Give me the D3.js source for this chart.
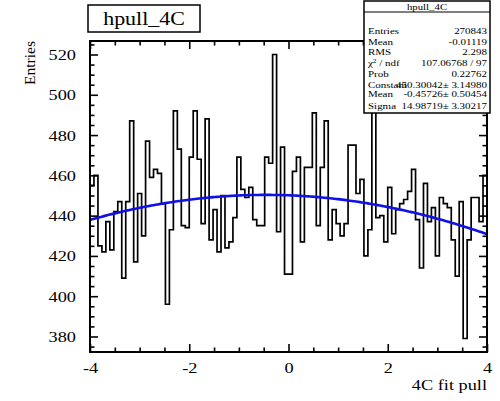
<!DOCTYPE html>
<html><head><meta charset="utf-8">
<script src="https://cdn.jsdelivr.net/npm/d3@7"></script>
<style>body{margin:0;background:#fff} text{font-family:"Liberation Serif","DejaVu Serif",serif}</style>
</head><body>
<svg id="c" width="500" height="401"></svg>
<script>
// ---- data ----
const histName = "hpull_4C";
const xTitle = "4C fit pull";
const yTitle = "Entries";
const xRange = [-4, 4];
const yRange = [372.3, 526.7];
const counts = [455,460,425,422,437,423,442,447,409,447,
                487,417,451,430,477,459,463,461,446,396,
                433,492,473,435,434,469,492,468,436,488,
                428,443,422,450,424,427,439,469,453,449,
                454,438,435,435,469,466,520,432,474,411,
                411,462,469,427,464,464,491,435,464,487,
                428,443,436,430,436,475,475,451,458,420,
                433,505,439,440,427,454,431,443,446,448,
                452,463,438,414,456,437,444,420,449,446,
                444,428,410,447,379,428,449,449,437,460];
const xMajorTicks = [-4, -2, 0, 2, 4];
const xMinorTicks = [-3.5,-3,-2.5,-1.5,-1,-0.5,0.5,1,1.5,2.5,3,3.5];
const yMajorTicks = [380, 400, 420, 440, 460, 480, 500, 520];
const yMinorTicks = [375,385,390,395,405,410,415,425,430,435,445,450,455,465,470,475,485,490,495,505,510,515,525];
const fitConstant = 450.30042, fitMean = -0.45726, fitSigma = 14.98719;
const statsLabels = ["Entries","Mean","RMS","CHI","Prob","Constant","Mean","Sigma"];
const statsValues = ["270843","-0.01119","2.298","107.06768 / 97","0.22762","450.30042\u00b1 3.14980","-0.45726\u00b1 0.50454","14.98719\u00b1 3.30217"];

// ---- layout ----
const L = 90, R = 487, T = 41, B = 352;
const SX = 1.22;
const svg = d3.select("#c");
const x = d3.scaleLinear().domain(xRange).range([L, R]);
const y = d3.scaleLinear().domain(yRange).range([B, T]);

const defs = svg.append("defs");
defs.append("clipPath").attr("id","fr").append("rect").attr("x",L).attr("y",T).attr("width",R-L).attr("height",B-T);

// histogram step path
const nb = counts.length;
const bw = (xRange[1]-xRange[0])/nb;
const pts = [];
counts.forEach((c,i)=>{ const x0 = xRange[0]+i*bw; pts.push([x(x0), y(c)]); pts.push([x(x0+bw), y(c)]); });
svg.append("path").attr("clip-path","url(#fr)")
  .attr("d", d3.line()(pts)).attr("fill","none").attr("stroke","#000").attr("stroke-width",1.7);

// fit curve
const fx = d3.range(0, 201).map(k => xRange[0] + k*(xRange[1]-xRange[0])/200);
svg.append("path").attr("clip-path","url(#fr)")
  .attr("d", d3.line().x(d=>x(d)).y(d=>y(fitConstant*Math.exp(-0.5*Math.pow((d-fitMean)/fitSigma,2))))(fx))
  .attr("fill","none").attr("stroke","#1010e8").attr("stroke-width",2.6);

// axes
const fmt = d => String(d);
function styleAxis(g){ g.select(".domain").remove(); g.selectAll("line").attr("stroke","#000").attr("stroke-width",1.6); }
svg.append("g").attr("transform",`translate(0,${B})`)
  .call(d3.axisBottom(x).tickValues(xMajorTicks).tickSizeInner(-8).tickSizeOuter(0).tickPadding(0).tickFormat(fmt))
  .call(styleAxis)
  .call(g=>g.selectAll("text").attr("y",0).attr("dy",0).attr("transform","translate(0,21) scale("+SX+",1)").attr("font-size",15).attr("fill","#000").attr("font-family","Liberation Serif"));
svg.append("g").attr("transform",`translate(0,${B})`)
  .call(d3.axisBottom(x).tickValues(xMinorTicks).tickSizeInner(-4.5).tickSizeOuter(0).tickFormat(""))
  .call(styleAxis);
svg.append("g").attr("transform",`translate(0,${T})`)
  .call(d3.axisTop(x).tickValues(xMajorTicks).tickSizeInner(-8).tickSizeOuter(0).tickFormat(""))
  .call(styleAxis);
svg.append("g").attr("transform",`translate(0,${T})`)
  .call(d3.axisTop(x).tickValues(xMinorTicks).tickSizeInner(-4.5).tickSizeOuter(0).tickFormat(""))
  .call(styleAxis);
svg.append("g").attr("transform",`translate(${L},0)`)
  .call(d3.axisLeft(y).tickValues(yMajorTicks).tickSizeInner(-8).tickSizeOuter(0).tickPadding(0).tickFormat(fmt))
  .call(styleAxis)
  .call(g=>g.selectAll("text").attr("x",0).attr("dy",0).attr("transform","translate(-14,5) scale("+SX+",1)").attr("font-size",15).attr("fill","#000").attr("font-family","Liberation Serif"));
svg.append("g").attr("transform",`translate(${L},0)`)
  .call(d3.axisLeft(y).tickValues(yMinorTicks).tickSizeInner(-4.5).tickSizeOuter(0).tickFormat(""))
  .call(styleAxis);
svg.append("g").attr("transform",`translate(${R},0)`)
  .call(d3.axisRight(y).tickValues(yMajorTicks).tickSizeInner(-8).tickSizeOuter(0).tickFormat(""))
  .call(styleAxis);
svg.append("g").attr("transform",`translate(${R},0)`)
  .call(d3.axisRight(y).tickValues(yMinorTicks).tickSizeInner(-4.5).tickSizeOuter(0).tickFormat(""))
  .call(styleAxis);

// frame
svg.append("rect").attr("x",L).attr("y",T).attr("width",R-L).attr("height",B-T)
  .attr("fill","none").attr("stroke","#000").attr("stroke-width",2);

// axis titles
svg.append("text").attr("transform",`translate(${R},390) scale(${SX},1)`).attr("text-anchor","end")
  .attr("font-size",15).text(xTitle);
svg.append("text").attr("transform",`translate(35,${T}) rotate(-90)`).attr("text-anchor","end")
  .attr("font-size",15.5).text(yTitle);

// title box
svg.append("rect").attr("x",88).attr("y",5).attr("width",112).attr("height",27).attr("fill","#fff").attr("stroke","#000").attr("stroke-width",1.5);
svg.append("text").attr("transform",`translate(144,25) scale(${SX},1)`).attr("text-anchor","middle").attr("font-size",18).text(histName);

// stats box
const sb = {x:364, y:1, w:126, h:112};
const ST = 1.22, SF = 9;
svg.append("rect").attr("x",sb.x).attr("y",sb.y).attr("width",sb.w).attr("height",sb.h).attr("fill","#fff").attr("stroke","#000").attr("stroke-width",1.5);
svg.append("line").attr("x1",sb.x).attr("x2",sb.x+sb.w).attr("y1",12).attr("y2",12).attr("stroke","#000").attr("stroke-width",1);
svg.append("text").attr("transform",`translate(${sb.x+sb.w/2},9.5) scale(1.35,1)`).attr("text-anchor","middle").attr("font-size",8).text(histName);
const rowY = [34,45,55,66,77,88,97,109];
statsLabels.forEach((lab,i)=>{
  const t = svg.append("text").attr("transform",`translate(${sb.x+4},${rowY[i]}) scale(${ST},1)`).attr("font-size",SF);
  if(lab==="CHI"){ t.append("tspan").text("\u03c7"); t.append("tspan").attr("dy",-3.5).attr("font-size",6).text("2"); t.append("tspan").attr("dy",3.5).text(" / ndf"); }
  else t.text(lab);
  svg.append("text").attr("transform",`translate(${sb.x+sb.w-3},${rowY[i]}) scale(${ST},1)`).attr("text-anchor","end").attr("font-size",SF).text(statsValues[i]);
});
</script>
</body></html>
